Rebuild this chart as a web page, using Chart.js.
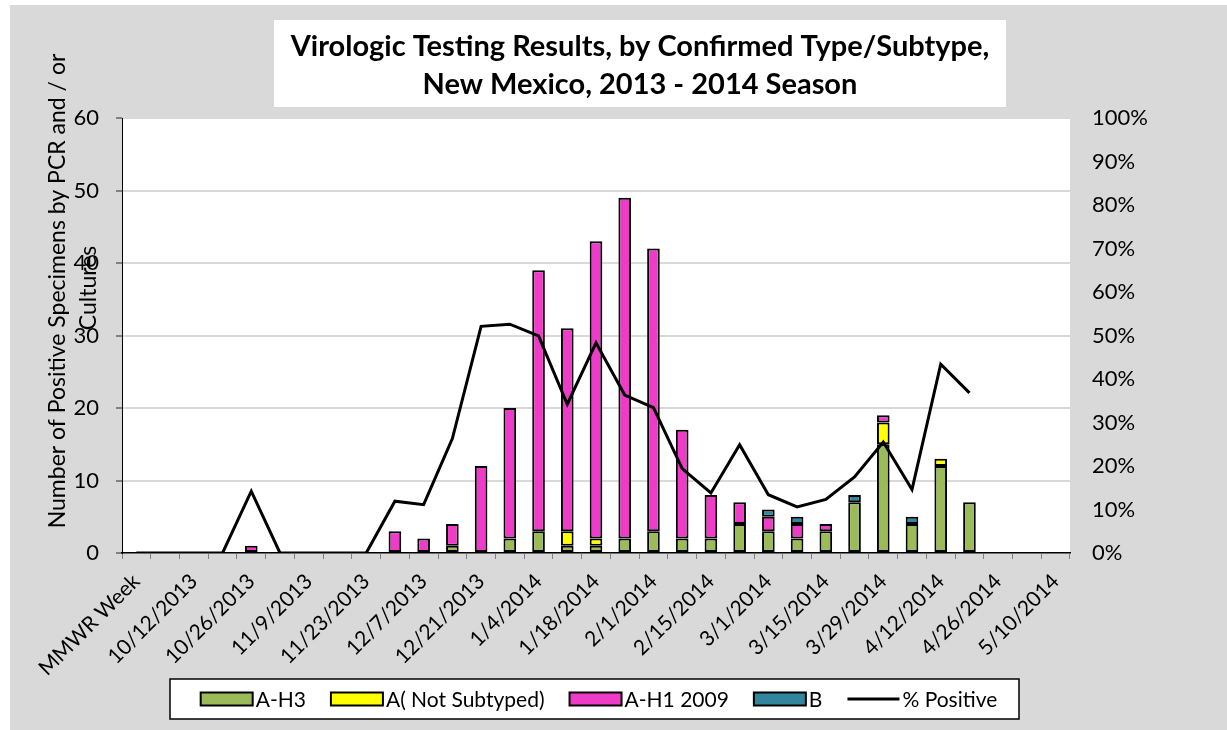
<!DOCTYPE html>
<html>
<head>
<meta charset="utf-8">
<script src="https://cdn.jsdelivr.net/npm/chart.js@4"></script>
<style>
  html, body { margin: 0; padding: 0; background: #fff; }
  canvas { display: block; }
</style>
</head>
<body>
<canvas id="chart" width="1227" height="730"></canvas>
<script>
// === Data ===
const weeks = [
    "MMWR Week", "10/5/2013", "10/12/2013", "10/19/2013", "10/26/2013", "11/2/2013",
    "11/9/2013", "11/16/2013", "11/23/2013", "11/30/2013", "12/7/2013", "12/14/2013",
    "12/21/2013", "12/28/2013", "1/4/2014", "1/11/2014", "1/18/2014", "1/25/2014",
    "2/1/2014", "2/8/2014", "2/15/2014", "2/22/2014", "3/1/2014", "3/8/2014",
    "3/15/2014", "3/22/2014", "3/29/2014", "4/5/2014", "4/12/2014", "4/19/2014",
    "4/26/2014", "5/3/2014", "5/10/2014"
];

const aH3 = [null, null, null, null, null, null, null, null, null, null, null, 1,
    null, 2, 3, 1, 1, 2, 3, 2, 2, 4, 3, 2, 3, 7, 15, 4, 12, 7, null, null, null];
const aNotSubtyped = [null, null, null, null, null, null, null, null, null, null, null, null,
    null, null, null, 2, 1, null, null, null, null, null, null, null, null, null, 3, null, 1, null, null, null, null];
const aH1 = [null, null, null, null, 1, null, null, null, null, 3, 2, 3,
    12, 18, 36, 28, 41, 47, 39, 15, 6, 3, 2, 2, 1, null, 1, null, null, null, null, null, null];
const typeB = [null, null, null, null, null, null, null, null, null, null, null, null,
    null, null, null, null, null, null, null, null, null, null, 1, 1, null, 1, null, 1, null, null, null, null, null];
const pctPositive = [0, 0, 0, 0, 14.2, 0, 0, 0, 0, 11.9, 11.1, 26.3,
    52.1, 52.6, 49.9, 34.2, 48.3, 36.3, 33.4, 19.4, 13.8, 24.9, 13.4, 10.6,
    12.3, 17.5, 25.5, 14.6, 43.4, 36.8, null, null, null];

const titleLines = ["Virologic Testing Results, by Confirmed Type/Subtype,", "New Mexico, 2013 - 2014 Season"];
const yTitleLines = ["Number of Positive Specimens by PCR and / or", "Cultures"];

const FONT = "Lato, 'Open Sans', sans-serif";

// === Decorations: backgrounds, title, axis title, legend ===
const decor = {
    id: "decor",
    beforeDraw(chart) {
        const { ctx, chartArea: a } = chart;
        ctx.save();
        ctx.fillStyle = "#ffffff";
        ctx.fillRect(0, 0, chart.width, chart.height);
        ctx.fillStyle = "#d9d9d9";
        ctx.fillRect(10, 5, chart.width - 10, chart.height - 5);
        ctx.fillStyle = "#ffffff";
        ctx.fillRect(a.left, a.top, a.right - a.left, a.bottom - a.top);
        ctx.fillRect(274, 20, 732, 87);
        ctx.restore();
    },
    afterDraw(chart) {
        const ctx = chart.ctx;
        ctx.save();
        ctx.fillStyle = "#000";

        // title
        ctx.font = "bold 29px " + FONT;
        ctx.textAlign = "center";
        ctx.textBaseline = "middle";
        ctx.fillText(titleLines[0], 640, 47);
        ctx.fillText(titleLines[1], 640, 85);

        // y axis title (wrapped like the original)
        ctx.font = "23px " + FONT;
        ctx.save();
        ctx.translate(58, 291);
        ctx.rotate(-Math.PI / 2);
        ctx.fillText(yTitleLines[0], 0, 0);
        ctx.restore();
        ctx.save();
        ctx.translate(89, 288);
        ctx.rotate(-Math.PI / 2);
        ctx.fillText(yTitleLines[1], 0, 0);
        ctx.restore();

        // legend
        const box = { l: 170, t: 679, r: 1019, b: 719 };
        ctx.fillStyle = "#fff";
        ctx.fillRect(box.l, box.t, box.r - box.l, box.b - box.t);
        ctx.strokeStyle = "#000";
        ctx.lineWidth = 1.5;
        ctx.strokeRect(box.l, box.t, box.r - box.l, box.b - box.t);

        ctx.font = "21px " + FONT;
        ctx.textAlign = "left";
        const sw = 52, gap = 3, itemGap = 25;
        const items = chart.data.datasets.map(ds => ({
            ds, w: sw + gap + ctx.measureText(ds.label).width
        }));
        const total = items.reduce((s, it) => s + it.w, 0) + itemGap * (items.length - 1);
        let x = 599 - total / 2;
        const cy = (box.t + box.b) / 2;
        items.forEach(({ ds, w }) => {
            if (ds.type === "line") {
                ctx.strokeStyle = ds.borderColor;
                ctx.lineWidth = 3;
                ctx.beginPath();
                ctx.moveTo(x, cy);
                ctx.lineTo(x + sw, cy);
                ctx.stroke();
            } else {
                ctx.fillStyle = ds.backgroundColor;
                ctx.fillRect(x, cy - 6.5, sw, 13);
                ctx.strokeStyle = "#000";
                ctx.lineWidth = 2;
                ctx.strokeRect(x, cy - 6.5, sw, 13);
            }
            ctx.fillStyle = "#000";
            ctx.fillText(ds.label, x + sw + gap, cy + 1);
            x += w + itemGap;
        });
        ctx.restore();
    }
};

function barSet(label, data, color) {
    return {
        type: "bar",
        label,
        data,
        backgroundColor: color,
        borderColor: "#000",
        borderWidth: 2,
        borderSkipped: false,
        yAxisID: "y",
        order: 1,
        barPercentage: 0.44,
        categoryPercentage: 1,
    };
}

new Chart(document.getElementById("chart"), {
    data: {
        labels: weeks,
        datasets: [
            barSet("A-H3", aH3, "#9bbb59"),
            barSet("A( Not Subtyped)", aNotSubtyped, "#ffff00"),
            barSet("A-H1 2009", aH1, "#ef3cc8"),
            barSet("B", typeB, "#31859c"),
            {
                type: "line",
                label: "% Positive",
                data: pctPositive,
                borderColor: "#000",
                backgroundColor: "#000",
                borderWidth: 3,
                pointRadius: 0,
                tension: 0,
                yAxisID: "y1",
                order: 0,
            },
        ],
    },
    options: {
        responsive: false,
        animation: false,
        layout: { padding: { left: 10, top: 118, right: 0, bottom: 0 } },
        plugins: {
            legend: { display: false },
            title: { display: false },
            tooltip: { enabled: false },
        },
        scales: {
            x: {
                stacked: true,
                afterFit: s => { s.height = 177; s.paddingLeft = 0; s.paddingRight = 0; },
                grid: {
                    display: true,
                    drawOnChartArea: false,
                    offset: true,
                    tickLength: 6,
                    tickColor: "#808080",
                },
                border: { display: true, color: "#000", width: 1.5 },
                ticks: {
                    autoSkip: false,
                    maxRotation: 45,
                    minRotation: 45,
                    padding: 10,
                    color: "#000",
                    font: { family: FONT, size: 21 },
                    callback: (v, i) => (i % 2 === 0 ? weeks[i] : ""),
                },
            },
            y: {
                stacked: true,
                position: "left",
                min: 0,
                max: 60,
                afterFit: s => { s.width = 112; },
                grid: { color: "#d9d9d9", lineWidth: 2, tickLength: 6, tickColor: "#808080" },
                border: { display: true, color: "#000", width: 1 },
                ticks: {
                    stepSize: 10,
                    padding: 17,
                    color: "#000",
                    font: { family: FONT, size: 22 },
                },
            },
            y1: {
                position: "right",
                min: 0,
                max: 100,
                afterFit: s => { s.width = 157; },
                grid: { display: false, drawTicks: false },
                border: { display: false },
                ticks: {
                    stepSize: 10,
                    padding: 22,
                    color: "#000",
                    font: { family: FONT, size: 22 },
                    callback: v => v + "%",
                },
            },
        },
    },
    plugins: [decor],
});
</script>
</body>
</html>
